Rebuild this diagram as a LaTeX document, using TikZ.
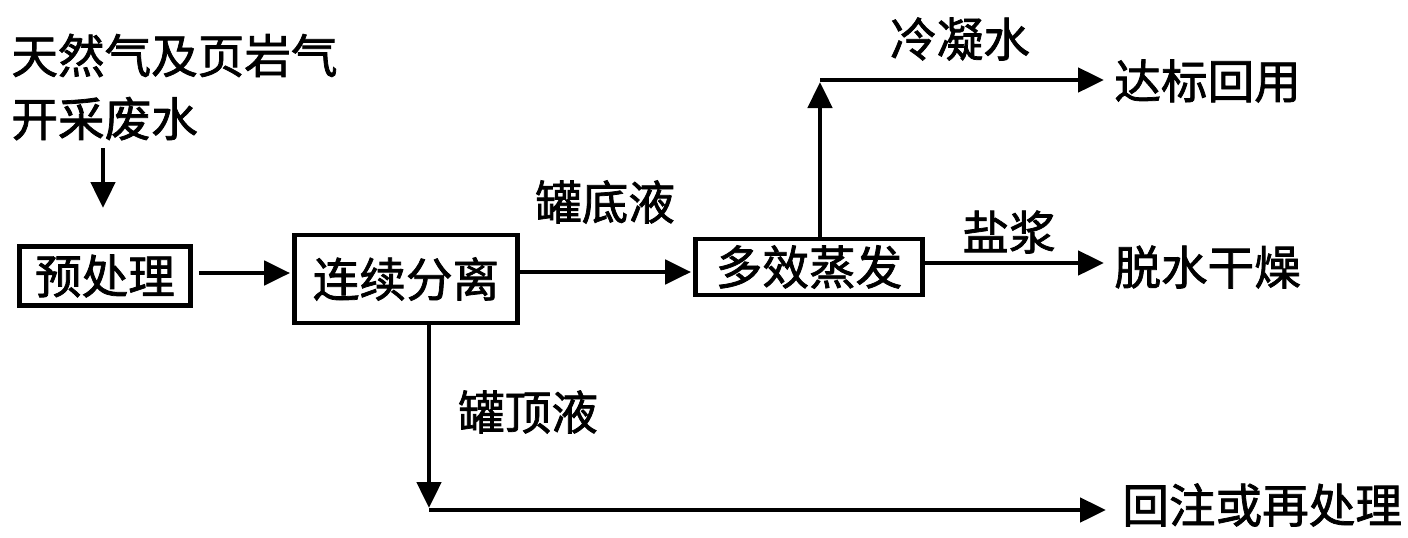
\documentclass[tikz,border=0pt]{standalone}
\usepackage{fontspec}
\newfontfamily\cjk[BoldFont={Noto Sans CJK SC},BoldFeatures={FakeBold=1.6}]{Noto Sans CJK SC}
\usetikzlibrary{arrows.meta}
\begin{document}
\begin{tikzpicture}[x=0.5pt,y=-0.5pt,line width=2.4pt,shorten >=1pt]
        \tikzstyle{txt}=[inner sep=0pt,font=\cjk\bfseries\fontsize{23.3}{31.5}\selectfont]
        \tikzstyle{unit}=[txt,draw=black,rectangle]
        \tikzstyle{arr}=[draw,-{Triangle[length=13pt,width=12pt]}]
        \useasboundingbox (0,0) rectangle (1408,537);
       \begin{scope}
         \node [txt,align=left,anchor=west] (raw) at (9,87) {天然气及页岩气\\开采废水};
         \node [unit,minimum width=85.5pt,minimum height=29.5pt] (pre) at (105,276) {预处理};
         \node [unit,minimum width=111.5pt,minimum height=44pt] (sep) at (406,279) {连续分离};
         \node [unit,minimum width=113.5pt,minimum height=28pt] (evap) at (809,267) {多效蒸发};
         \node [txt,anchor=west] (reuse) at (1112,81) {达标回用};
         \node [txt,anchor=west] (dry) at (1112,267) {脱水干燥};
         \node [txt,anchor=west] (reinj) at (1120,505) {回注或再处理};
         \node [txt] (bottoms) at (605,202) {罐底液};
         \node [txt] (cond) at (960,39) {冷凝水};
         \node [txt] (slurry) at (1009,232) {盐浆};
         \node [txt] (tops) at (528,412) {罐顶液};
         \coordinate (in1) at (103,148);
         \coordinate (in2) at (103,210);
         \coordinate (up) at (820,80);
         \coordinate (down) at (429,510);
         % connectors
         \path[arr,shorten <=3pt] ([yshift=1.5pt]pre.east) -- ([yshift=1.5pt]pre.east -| sep.west);
         \path[arr] (in1) -- (in2);
         \path[arr] ([yshift=-2.5pt]evap.west -| sep.east) -- ([yshift=-2.5pt]evap.west);
         \path[arr] (evap.north -| up) -- (up);
         \path[arr,shorten >=4pt] (up) -- (up -| reuse.west);
         \path[arr,shorten >=4pt] ([yshift=2pt]evap.east) -- ([yshift=2pt]evap.east -| dry.west);
         \path[arr] (sep.south -| down) -- (down);
         \path[arr,shorten >=7pt] (down) -- (down -| reinj.west);
        \end{scope}
      \end{tikzpicture}
\end{document}
